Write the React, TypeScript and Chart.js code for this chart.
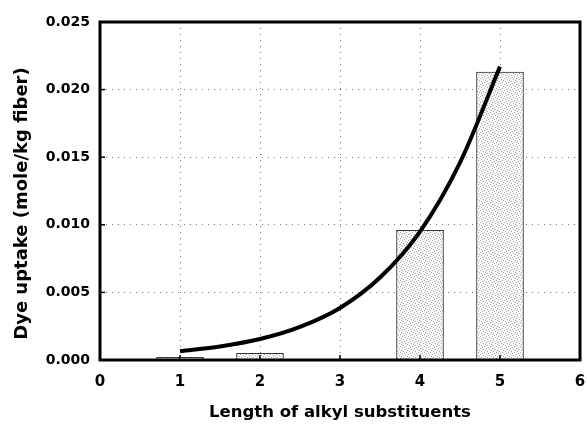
import React, { useEffect, useRef } from "react";
import { Chart, registerables } from "chart.js";

Chart.register(...registerables);

// Data
const barPositions = [1, 2, 4, 5];
const barValues = [0.0002, 0.0005, 0.0096, 0.0213];
const curveX = [1, 1.5, 2, 2.5, 3, 3.5, 4, 4.5, 5];
const curveY = [0.00065, 0.001, 0.00155, 0.00245, 0.00385, 0.0061, 0.0095, 0.0146, 0.0217];
const xTickValues = [0, 1, 2, 3, 4, 5, 6];
const yTickValues = [0, 0.005, 0.01, 0.015, 0.02, 0.025];
const xTitle = "Length of alkyl substituents";
const yTitle = "Dye uptake (mole/kg fiber)    ";

const FONT = "'DejaVu Sans', 'Liberation Sans', Arial, sans-serif";

function makePattern(): CanvasPattern | string {
  const c = document.createElement("canvas");
  c.width = 6;
  c.height = 6;
  const g = c.getContext("2d");
  if (!g) return "#ececec";
  g.fillStyle = "#f8f8f8";
  g.fillRect(0, 0, 6, 6);
  g.fillStyle = "#a8a8a8";
  const dots = [[0, 0], [3, 1], [1, 3], [4, 4], [5, 2], [2, 5]];
  dots.forEach(([x, y]) => g.fillRect(x, y, 1, 1));
  const p = g.createPattern(c, "repeat");
  return p || "#ececec";
}

const framePlugin = {
  id: "frame",
  afterDatasetsDraw(chart: any) {
    const { ctx, chartArea } = chart;
    const { left, right, top, bottom } = chartArea;
    ctx.save();
    ctx.strokeStyle = "#000";
    ctx.lineWidth = 1.5;
    const xs = chart.scales.x;
    const ys = chart.scales.y;
    xTickValues.forEach((v) => {
      const px = xs.getPixelForValue(v);
      ctx.beginPath();
      ctx.moveTo(px, bottom);
      ctx.lineTo(px, bottom - 5);
      ctx.stroke();
    });
    yTickValues.forEach((v) => {
      const py = ys.getPixelForValue(v);
      ctx.beginPath();
      ctx.moveTo(left, py);
      ctx.lineTo(left + 5, py);
      ctx.stroke();
    });
    ctx.lineWidth = 3;
    ctx.strokeRect(left, top, right - left, bottom - top);
    ctx.restore();
  },
};

export default function App() {
  const ref = useRef<HTMLCanvasElement | null>(null);

  useEffect(() => {
    document.body.style.margin = "0";
    const canvas = ref.current;
    if (!canvas) return;
    const pattern = makePattern();
    const chart = new Chart(canvas, {
      type: "bar",
      data: {
        datasets: [
          {
            type: "line",
            data: curveX.map((x, i) => ({ x, y: curveY[i] })),
            borderColor: "#000",
            borderWidth: 4,
            pointRadius: 0,
            cubicInterpolationMode: "monotone",
            order: 0,
          } as any,
          {
            type: "bar",
            data: barPositions.map((x, i) => ({ x, y: barValues[i] })),
            backgroundColor: pattern as any,
            borderColor: "#333",
            borderWidth: 1,
            barThickness: 47,
            order: 1,
          } as any,
        ],
      },
      options: {
        animation: false,
        responsive: false,
        maintainAspectRatio: false,
        layout: { padding: { left: 0, right: 7, top: 22, bottom: 0 } },
        plugins: { legend: { display: false }, tooltip: { enabled: false } },
        scales: {
          x: {
            type: "linear",
            min: 0,
            max: 6,
            offset: false,
            afterFit: (s: any) => {
              s.height = 64;
              s.paddingLeft = 0;
              s.paddingRight = 0;
            },
            afterBuildTicks: (s: any) => {
              s.ticks = xTickValues.map((v) => ({ value: v }));
            },
            ticks: {
              color: "#000",
              font: { family: FONT, size: 15, weight: "bold" },
              padding: 13,
              maxRotation: 0,
              callback: (v: any) => String(v),
            },
            grid: {
              offset: false,
              drawTicks: false,
              color: (c: any) =>
                c.tick && (c.tick.value === 0 || c.tick.value === 6) ? "rgba(0,0,0,0)" : "#777",
              lineWidth: 1,
            },
            border: { display: false, dash: [1, 5] },
            title: {
              display: true,
              text: xTitle,
              color: "#000",
              font: { family: FONT, size: 16.5, weight: "bold" },
              padding: { top: 0, bottom: 1 },
            },
          },
          y: {
            type: "linear",
            min: 0,
            max: 0.025,
            afterFit: (s: any) => {
              s.width = 100;
              s.paddingTop = 0;
              s.paddingBottom = 0;
            },
            afterBuildTicks: (s: any) => {
              s.ticks = yTickValues.map((v) => ({ value: v }));
            },
            ticks: {
              color: "#000",
              font: { family: FONT, size: 14, weight: "bold" },
              padding: 10,
              callback: (v: any) => Number(v).toFixed(3),
            },
            grid: {
              drawTicks: false,
              color: (c: any) =>
                c.tick && (c.tick.value === 0 || c.tick.value === 0.025) ? "rgba(0,0,0,0)" : "#777",
              lineWidth: 1,
            },
            border: { display: false, dash: [1, 5] },
            title: {
              display: true,
              text: yTitle,
              color: "#000",
              font: { family: FONT, size: 18, weight: "bold" },
              padding: { top: 12, bottom: 0 },
            },
          },
        },
      },
      plugins: [framePlugin],
    });
    return () => chart.destroy();
  }, []);

  return (
    <div style={{ width: 587, height: 424, background: "#fff" }}>
      <canvas ref={ref} width={587} height={424} style={{ display: "block" }} />
    </div>
  );
}
